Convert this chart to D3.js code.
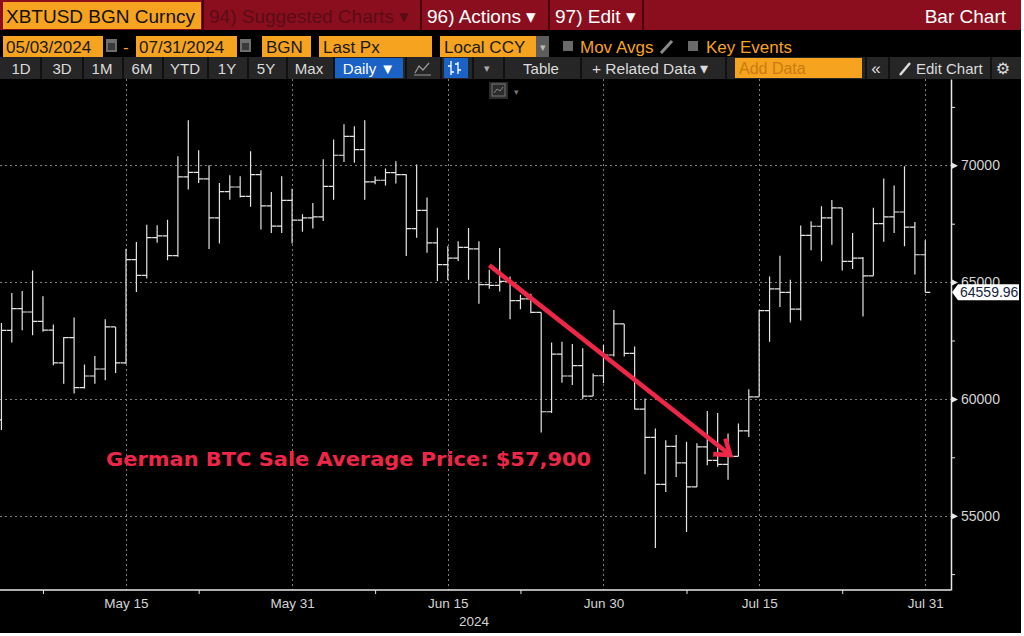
<!DOCTYPE html>
<html>
<head>
<meta charset="utf-8">
<script src="https://cdn.jsdelivr.net/npm/d3@7"></script>
<style>
body { margin: 0; background: #fff; }
svg text { font-family: "Liberation Sans", Arial, sans-serif; }
</style>
</head>
<body>
<div id="chart"></div>
<script>
// daily OHLC, XBTUSD BGN
var dates = [
    "2024-05-03", "2024-05-04", "2024-05-05", "2024-05-06", "2024-05-07", "2024-05-08", "2024-05-09", "2024-05-10",
    "2024-05-11", "2024-05-12", "2024-05-13", "2024-05-14", "2024-05-15", "2024-05-16", "2024-05-17", "2024-05-18",
    "2024-05-19", "2024-05-20", "2024-05-21", "2024-05-22", "2024-05-23", "2024-05-24", "2024-05-25", "2024-05-26",
    "2024-05-27", "2024-05-28", "2024-05-29", "2024-05-30", "2024-05-31",
    "2024-06-01", "2024-06-02", "2024-06-03", "2024-06-04", "2024-06-05", "2024-06-06", "2024-06-07", "2024-06-08",
    "2024-06-09", "2024-06-10", "2024-06-11", "2024-06-12", "2024-06-13", "2024-06-14", "2024-06-15", "2024-06-16",
    "2024-06-17", "2024-06-18", "2024-06-19", "2024-06-20", "2024-06-21", "2024-06-22", "2024-06-23", "2024-06-24",
    "2024-06-25", "2024-06-26", "2024-06-27", "2024-06-28", "2024-06-29", "2024-06-30",
    "2024-07-01", "2024-07-02", "2024-07-03", "2024-07-04", "2024-07-05", "2024-07-06", "2024-07-07", "2024-07-08",
    "2024-07-09", "2024-07-10", "2024-07-11", "2024-07-12", "2024-07-13", "2024-07-14", "2024-07-15", "2024-07-16",
    "2024-07-17", "2024-07-18", "2024-07-19", "2024-07-20", "2024-07-21", "2024-07-22", "2024-07-23", "2024-07-24",
    "2024-07-25", "2024-07-26", "2024-07-27", "2024-07-28", "2024-07-29", "2024-07-30", "2024-07-31"
];
var opens = [
    59100, 62930, 63860, 63720, 63320, 62940, 61540, 62620, 60480, 60980, 61280, 63080, 61540, 65960, 65290, 66900,
    66980, 66130, 69500, 69700, 69420, 67750, 68870, 69070, 68670, 69600, 68260, 67400, 68500,
    67650, 67750, 67790, 69100, 70430, 71240, 70670, 69290, 69360, 69690, 69600, 67290, 68070, 66680, 65750, 66030,
    66490, 66420, 64890, 64860, 65030, 64210, 64280, 63700, 59450, 61920, 60980, 61420, 60120, 60990,
    61880, 63210, 61950, 59560, 58350, 56340, 57970, 57260, 56230, 57950, 57370, 57200, 57540, 58630, 60090, 63780,
    64710, 64560, 63840, 67000, 67390, 67750, 68180, 65890, 66030, 65270, 67500, 67790, 68000, 67350, 66170
];
var highs = [
    63250, 64530, 64620, 65500, 64390, 63180, 62650, 63480, 61470, 61840, 63410, 63080, 66430, 66720, 67460, 67430,
    67670, 70390, 71930, 70640, 70000, 69240, 69570, 69530, 70600, 69790, 68860, 69530, 69000,
    67900, 68390, 70260, 71100, 71760, 71670, 71930, 69530, 69860, 70170, 69620, 70030, 68620, 67330, 66530, 66750,
    67320, 66750, 65530, 66460, 65240, 64460, 64500, 63700, 62410, 62450, 62350, 62170, 61090, 62310,
    63810, 63210, 62240, 60020, 58730, 58230, 58450, 58160, 58100, 59480, 59400, 58520, 58950, 60410, 63810, 65240,
    66130, 65100, 67420, 67600, 68250, 68510, 68180, 67100, 66070, 68180, 69430, 69140, 69960, 67570, 66790
];
var lows = [
    58670, 62410, 62940, 62720, 62870, 61440, 60650, 60230, 60440, 60650, 60800, 61110, 61490, 64580, 65150, 66680,
    65930, 66080, 68960, 69240, 66420, 66650, 68530, 68620, 68220, 67250, 67100, 67100, 66650,
    67150, 67290, 67620, 68530, 70140, 70110, 68530, 69190, 69140, 69220, 66120, 66900, 66260, 65050, 65080, 65900,
    65100, 64070, 64710, 64600, 63410, 63840, 63670, 58560, 59400, 60690, 60590, 59980, 60120, 60670,
    61810, 61810, 59550, 56770, 53620, 56010, 56660, 54300, 56230, 57160, 57090, 56540, 57540, 58370, 60090, 62450,
    63930, 63270, 63360, 66360, 65890, 66600, 65500, 65560, 63530, 65270, 66730, 67100, 66530, 65330, 64570
];
var closes = [
    62930, 63860, 63720, 63320, 62940, 61540, 62620, 60480, 60980, 61280, 63080, 61540, 65960, 65290, 66900, 66980,
    66130, 69500, 69700, 69420, 67750, 68870, 69070, 68670, 69600, 68260, 67400, 68500, 67650,
    67750, 67790, 69100, 70430, 71240, 70670, 69290, 69360, 69690, 69600, 67290, 68070, 66680, 65750, 66030, 66490,
    66420, 64890, 64860, 65030, 64210, 64280, 63700, 59450, 61920, 60980, 61420, 60120, 60990, 61880,
    63210, 61950, 59560, 58350, 56340, 57970, 57260, 56230, 57950, 57370, 57200, 57540, 58630, 60090, 63780, 64710,
    64560, 63840, 67000, 67390, 67750, 68180, 65890, 66030, 65270, 67500, 67790, 68000, 67350, 66170, 64559.96
];

var yTicks = [55000, 60000, 65000, 70000];
var yMinorTicks = [52500, 57500, 62500, 67500, 72500];
var xTicks = ["2024-05-15", "2024-05-31", "2024-06-15", "2024-06-30", "2024-07-15", "2024-07-31"];
var xTickLabels = ["May 15", "May 31", "Jun 15", "Jun 30", "Jul 15", "Jul 31"];
var xMinorTicks = ["2024-05-07", "2024-05-22", "2024-06-08", "2024-06-22", "2024-07-08", "2024-07-23"];
var yearLabel = "2024";
var lastPrice = 64559.96;

var annotationText = "German BTC Sale Average Price: $57,900";
var annotationAt = ["2024-05-13T02:00Z", 57120];
var arrowFrom = ["2024-06-19T00:00Z", 65720];
var arrowTo = ["2024-07-12T05:00Z", 57600];

var W = 1024, H = 636;
var plotTop = 79, plotBottom = 590, plotRight = 951;
var red = "#ee2748";
var orange = "#f6a31f";

var svg = d3.select("#chart")
    .append("svg")
    .attr("width", W)
    .attr("height", H);

svg.append("rect").attr("width", 1021).attr("height", 633).attr("fill", "#000");

// ---------- Bloomberg header ----------
function box(x, y, w, h, fill) {
    return svg.append("rect").attr("x", x).attr("y", y).attr("width", w).attr("height", h).attr("fill", fill);
}
function label(x, y, txt, size, color, anchor, family) {
    return svg.append("text")
        .attr("x", x).attr("y", y)
        .attr("font-size", size)
        .attr("fill", color)
        .attr("text-anchor", anchor || "start")
        .style("font-family", family || '"Liberation Sans", Arial, sans-serif')
        .text(txt);
}
var narrow = '"Liberation Sans Narrow", "Arial Narrow", "Liberation Sans", sans-serif';

// row 1
box(0, 0, 1021, 30, "#8b0e1e");
box(3, 2, 198, 27, orange);
label(6, 23, "XBTUSD BGN Curncy", 19, "#111");
[202, 420, 548, 642].forEach(function (x) { box(x, 0, 2, 30, "#4a050c"); });
label(209, 23, "94) Suggested Charts \u25BE", 19, "#5a0c16");
label(427, 23, "96) Actions \u25BE", 19, "#fff");
label(555, 23, "97) Edit \u25BE", 19, "#fff");
label(1006, 23, "Bar Chart", 19, "#fff", "end");

// row 2
function calIcon(x) {
    box(x, 39, 11, 13, "#6e6e6e");
    box(x + 2, 43, 7, 7, "#3a3a3a");
}
box(3, 36, 100, 21, orange);
label(6, 53, "05/03/2024", 17, "#1a1a1a");
calIcon(106);
label(123, 53, "-", 17, orange);
box(136, 36, 101, 21, orange);
label(139, 53, "07/31/2024", 17, "#1a1a1a");
calIcon(240);
box(262, 36, 49, 21, orange);
label(266, 53, "BGN", 17, "#1a1a1a");
box(319, 36, 113, 21, orange);
label(323, 53, "Last Px", 17, "#1a1a1a");
box(440, 36, 96, 21, orange);
label(444, 53, "Local CCY", 17, "#1a1a1a");
box(536, 36, 13, 21, "#5c5c5c");
label(542.5, 51, "\u25BE", 11, "#bbb", "middle");
box(563, 41, 10, 10, "#6a6a6a");
label(580, 53, "Mov Avgs", 17, orange);
svg.append("line").attr("x1", 661).attr("y1", 53).attr("x2", 672).attr("y2", 41)
    .attr("stroke", "#8a8a8a").attr("stroke-width", 3);
box(688, 41, 10, 10, "#6a6a6a");
label(706, 53, "Key Events", 17, orange);

// row 3
box(0, 57, 1021, 22, "#262626");
[40, 82, 122, 162, 207, 247, 286, 333, 405, 440, 472, 503, 580, 725, 865, 888, 990].forEach(function (x) {
    box(x, 57, 2, 22, "#111");
});
var periods = [["1D", 21], ["3D", 62], ["1M", 102], ["6M", 142], ["YTD", 185], ["1Y", 227], ["5Y", 266], ["Max", 309]];
periods.forEach(function (p) { label(p[1], 74, p[0], 15, "#dcdcdc", "middle", narrow); });
box(335, 58, 68, 20, "#1a62c6");
label(369, 74, "Daily \u25BC", 15, "#fff", "middle", narrow);
svg.append("polyline").attr("points", "415,73 419,66 423,70 429,63")
    .attr("fill", "none").attr("stroke", "#9a9a9a").attr("stroke-width", 1.3);
svg.append("line").attr("x1", 414).attr("y1", 75).attr("x2", 431).attr("y2", 75).attr("stroke", "#9a9a9a");
box(444, 58, 24, 20, "#1a62c6");
svg.append("path").attr("d", "M451,61V75M448,66H451M451,72H454M458,62V74M455,64H458M458,70H461")
    .attr("fill", "none").attr("stroke", "#fff").attr("stroke-width", 1.3);
label(487, 72, "\u25BE", 11, "#aaa", "middle");
label(541, 74, "Table", 15, "#dcdcdc", "middle", narrow);
label(592, 74, "+ Related Data \u25BE", 15.5, "#dcdcdc", "start", narrow);
box(735, 58, 127, 20, orange);
label(739, 74, "Add Data", 16, "#c97b12");
label(876, 74, "\u00AB", 17, "#dcdcdc", "middle");
svg.append("line").attr("x1", 900).attr("y1", 75).attr("x2", 910).attr("y2", 63)
    .attr("stroke", "#dcdcdc").attr("stroke-width", 2.5);
label(916, 74, "Edit Chart", 15, "#dcdcdc", "start", narrow);
label(1003, 74, "\u2699", 16, "#dcdcdc", "middle", '"DejaVu Sans", sans-serif');

// small chart-type button under the toolbar
box(489, 82, 19, 17, "#2c2c2c");
svg.append("rect").attr("x", 492).attr("y", 84).attr("width", 13).attr("height", 12)
    .attr("fill", "none").attr("stroke", "#777");
svg.append("polyline").attr("points", "494,93 497,89 500,91 503,87")
    .attr("fill", "none").attr("stroke", "#888");
label(516, 95, "\u25BE", 9, "#777", "middle");

// ---------- chart ----------
var parse = function (s) { return new Date(s.length === 10 ? s + "T00:00:00Z" : s); };

var x = d3.scaleUtc()
    .domain([parse("2024-05-02T20:40:00Z"), parse("2024-08-02T11:30:00Z")])
    .range([0, plotRight]);
var y = d3.scaleLinear()
    .domain([51819, 73694])
    .range([plotBottom, plotTop]);

var grid = svg.append("g")
    .attr("stroke", "#808080")
    .attr("stroke-width", 1)
    .attr("stroke-dasharray", "2,3");
grid.selectAll(".hgrid")
    .data(yTicks)
    .enter().append("line")
    .attr("x1", 0).attr("x2", plotRight)
    .attr("y1", function (d) { return Math.round(y(d)) + 0.5; })
    .attr("y2", function (d) { return Math.round(y(d)) + 0.5; });
grid.selectAll(".vgrid")
    .data(xTicks)
    .enter().append("line")
    .attr("y1", plotTop).attr("y2", plotBottom)
    .attr("x1", function (d) { return Math.round(x(parse(d))) + 0.5; })
    .attr("x2", function (d) { return Math.round(x(parse(d))) + 0.5; });

// OHLC bars
var bars = dates.map(function (d, i) {
    return { date: parse(d), o: opens[i], h: highs[i], l: lows[i], c: closes[i] };
});
var half = 5;
svg.append("g")
    .attr("stroke", "#e4e4e4")
    .attr("stroke-width", 1.2)
    .attr("fill", "none")
    .selectAll("path")
    .data(bars)
    .enter().append("path")
    .attr("d", function (b) {
        var cx = x(b.date);
        return "M" + cx + "," + y(b.h) + "V" + y(b.l) +
            "M" + (cx - half) + "," + y(b.o) + "H" + cx +
            "M" + cx + "," + y(b.c) + "H" + (cx + half);
    });

// axes
var yAxis = d3.axisRight(y)
    .tickValues(yTicks)
    .tickSize(0)
    .tickPadding(10)
    .tickFormat(d3.format("d"));
var yAxisG = svg.append("g")
    .attr("transform", "translate(" + plotRight + ",0)")
    .call(yAxis);
yAxisG.select(".domain").attr("stroke", "#e8e8e8").attr("stroke-width", 1.5);
yAxisG.selectAll("text")
    .attr("fill", "#d4d4d4")
    .attr("font-size", 14)
    .style("font-family", '"Liberation Sans", Arial, sans-serif');
yAxisG.selectAll(".tick").append("path")
    .attr("d", "M0,-3.5L7,0L0,3.5Z")
    .attr("fill", "#e8e8e8");
svg.append("g")
    .attr("transform", "translate(" + plotRight + ",0)")
    .call(d3.axisRight(y).tickValues(yMinorTicks).tickSize(4).tickFormat(""))
    .call(function (g) {
        g.select(".domain").remove();
        g.selectAll("line").attr("stroke", "#e8e8e8");
    });

var xAxisG = svg.append("g")
    .attr("transform", "translate(0," + plotBottom + ")")
    .call(d3.axisBottom(x)
        .tickValues(xTicks.map(parse))
        .tickSize(0)
        .tickPadding(8)
        .tickFormat(function (d, i) { return xTickLabels[i]; }));
xAxisG.select(".domain").attr("stroke", "#e8e8e8").attr("stroke-width", 1.5)
    .attr("d", "M0,0H" + plotRight);
xAxisG.selectAll("text")
    .attr("fill", "#d4d4d4")
    .attr("font-size", 13.5)
    .style("font-family", narrow);
svg.append("g")
    .attr("transform", "translate(0," + plotBottom + ")")
    .call(d3.axisBottom(x).tickValues(xMinorTicks.map(parse)).tickSize(4).tickFormat(""))
    .call(function (g) {
        g.select(".domain").remove();
        g.selectAll("line").attr("stroke", "#e8e8e8");
    });
label(474, 626, yearLabel, 13.5, "#d4d4d4", "middle", narrow);

// last price tag, drawn over the 65000 label as on the terminal
var ly = y(lastPrice);
svg.append("path")
    .attr("d", "M" + (plotRight + 1) + "," + ly + "L" + (plotRight + 7) + "," + (ly - 8) +
        "H1019V" + (ly + 8) + "H" + (plotRight + 7) + "Z")
    .attr("fill", "#fff");
label(plotRight + 9, ly + 5, d3.format(".2f")(lastPrice), 14, "#15243f");

// annotation arrow + text
var ax1 = x(parse(arrowFrom[0])), ay1 = y(arrowFrom[1]);
var ax2 = x(parse(arrowTo[0])), ay2 = y(arrowTo[1]);
var ang = Math.atan2(ay2 - ay1, ax2 - ax1);
var headLen = 17, spread = 0.62;
svg.append("line")
    .attr("x1", ax1).attr("y1", ay1).attr("x2", ax2 - 2 * Math.cos(ang)).attr("y2", ay2 - 2 * Math.sin(ang))
    .attr("stroke", red).attr("stroke-width", 4.6);
svg.append("path")
    .attr("d", "M" + (ax2 - headLen * Math.cos(ang - spread)) + "," + (ay2 - headLen * Math.sin(ang - spread)) +
        "L" + ax2 + "," + ay2 +
        "L" + (ax2 - headLen * Math.cos(ang + spread)) + "," + (ay2 - headLen * Math.sin(ang + spread)))
    .attr("fill", "none").attr("stroke", red).attr("stroke-width", 4.6)
    .attr("stroke-linejoin", "miter");

label(x(parse(annotationAt[0])), y(annotationAt[1]), annotationText, 19, red, "start",
    '"DejaVu Sans", Verdana, sans-serif')
    .attr("font-weight", "bold")
    .attr("textLength", 485)
    .attr("lengthAdjust", "spacingAndGlyphs");
</script>
</body>
</html>
